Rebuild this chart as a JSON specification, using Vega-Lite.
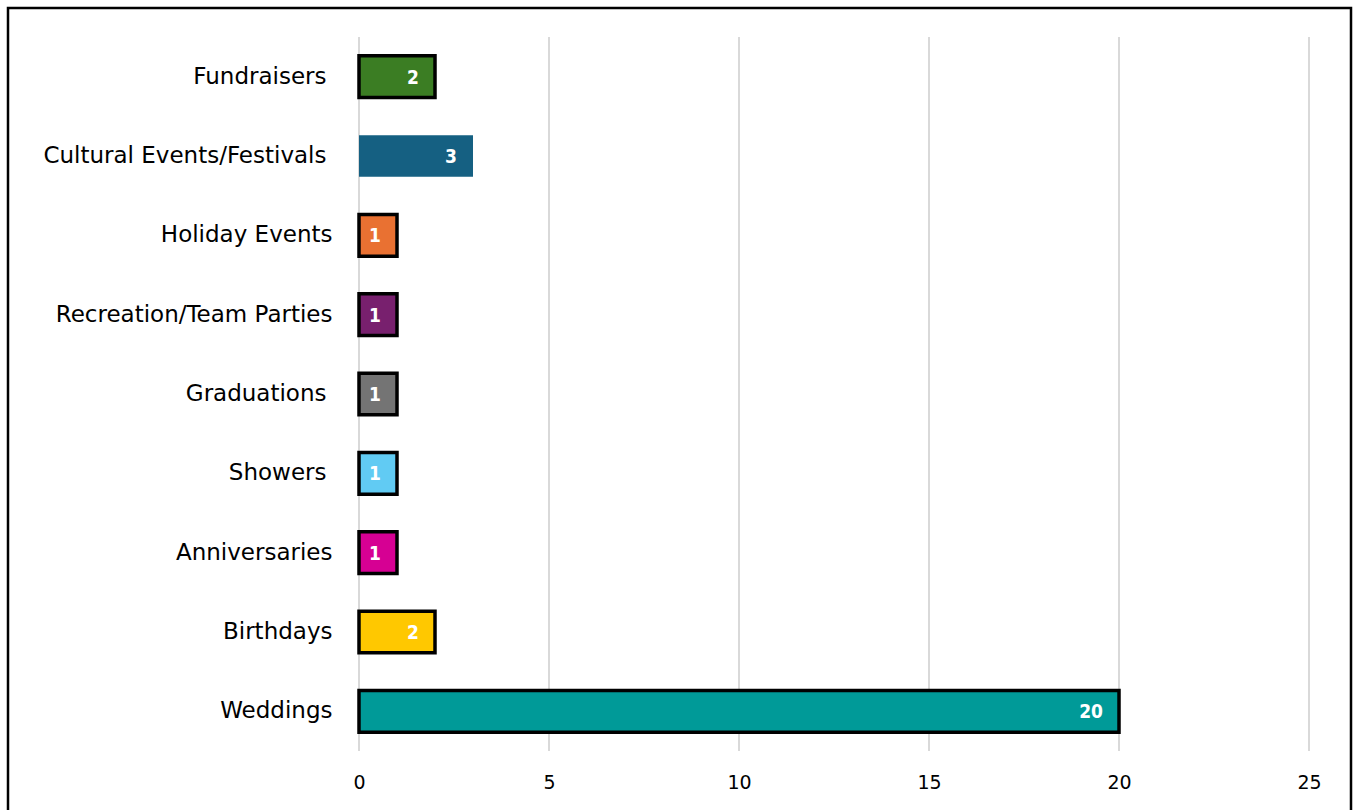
{
  "$schema": "https://vega.github.io/schema/vega-lite/v6.json",
  "width": 1343,
  "height": 810,
  "autosize": "none",
  "padding": {"left": 8, "top": 8, "right": 3, "bottom": 0},
  "background": "white",
  "config": {
    "view": {"stroke": "black", "strokeWidth": 2.5},
    "font": "DejaVu Sans"
  },
  "datasets": {
    "events": [
      {"category": "Fundraisers", "count": 2},
      {"category": "Cultural Events/Festivals", "count": 3},
      {"category": "Holiday Events", "count": 1},
      {"category": "Recreation/Team Parties", "count": 1},
      {"category": "Graduations", "count": 1},
      {"category": "Showers", "count": 1},
      {"category": "Anniversaries", "count": 1},
      {"category": "Birthdays", "count": 2},
      {"category": "Weddings", "count": 20}
    ],
    "grid": [{"v": 0}, {"v": 5}, {"v": 10}, {"v": 15}, {"v": 20}, {"v": 25}]
  },
  "layer": [
    {
      "data": {"name": "grid"},
      "mark": {"type": "rule", "color": "#d9d9d9", "strokeWidth": 2},
      "encoding": {
        "x": {
          "field": "v", "type": "quantitative",
          "scale": {"domain": [0, 25], "range": [351, 1301], "nice": false, "zero": false},
          "axis": {
            "orient": "bottom", "offset": -45, "title": null, "domain": false, "ticks": false, "grid": false,
            "labelPadding": 0, "values": [0, 5, 10, 15, 20, 25], "labelFlush": false,
            "labelFont": "DejaVu Sans", "labelFontSize": 19, "labelColor": "#000000"
          }
        },
        "y": {"datum": 0, "type": "quantitative", "scale": {"domain": [0, 1], "range": [29, 743]}, "axis": null},
        "y2": {"datum": 1}
      }
    },
    {
      "data": {"name": "events"},
      "layer": [
        {
          "mark": {"type": "bar", "strokeWidth": 3.5, "cornerRadius": 0},
          "encoding": {
            "x": {"field": "count", "type": "quantitative", "axis": null},
            "y": {
              "field": "category", "type": "nominal", "sort": null,
              "scale": {"range": [29, 743], "paddingInner": 0.475, "paddingOuter": 0.2375},
              "axis": {
                "title": null, "domain": false, "ticks": false, "grid": false,
                "labelPadding": {
                  "condition": {"test": "indexof(['Fundraisers', 'Cultural Events/Festivals', 'Graduations', 'Showers'], datum.value) >= 0", "value": 6},
                  "value": 0
                },
                "offset": -324,
                "labelFont": "DejaVu Sans", "labelFontSize": 23, "labelColor": "#000000",
                "labelLimit": 400
              }
            },
            "color": {
              "field": "category", "type": "nominal", "legend": null,
              "scale": {
                "domain": ["Fundraisers", "Cultural Events/Festivals", "Holiday Events", "Recreation/Team Parties", "Graduations", "Showers", "Anniversaries", "Birthdays", "Weddings"],
                "range": ["#3B7D23", "#156082", "#E97132", "#78206E", "#747474", "#61CBF3", "#D60093", "#FFC800", "#009A98"]
              }
            },
            "stroke": {
              "condition": {"test": "datum.category === 'Cultural Events/Festivals'", "value": "transparent"},
              "value": "#000000"
            }
          }
        },
        {
          "mark": {"type": "text", "align": "right", "baseline": "middle", "dx": -16, "dy": 1, "color": "white", "font": "DejaVu Sans Condensed", "fontWeight": "bold", "fontSize": 19},
          "encoding": {
            "x": {"field": "count", "type": "quantitative"},
            "y": {"field": "category", "type": "nominal", "sort": null},
            "text": {"field": "count", "type": "quantitative"}
          }
        }
      ]
    }
  ],
  "resolve": {"scale": {"y": "independent"}, "axis": {"y": "independent", "x": "independent"}},
  "encoding": {}
}
